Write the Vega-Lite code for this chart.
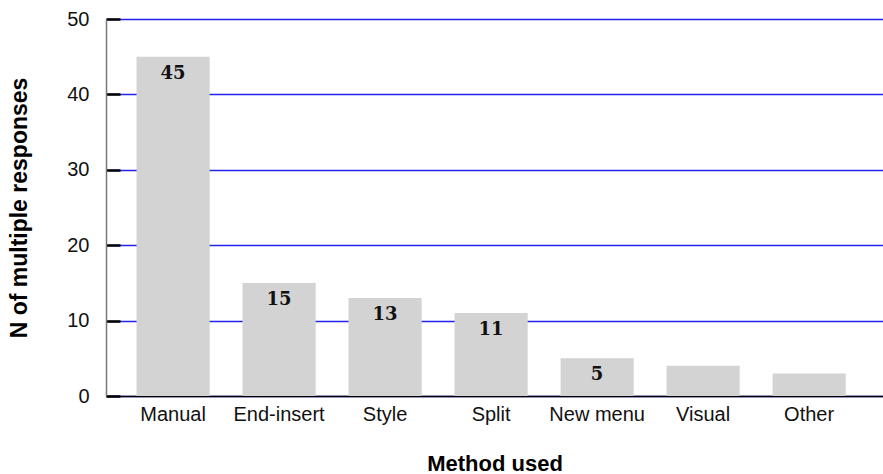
{
  "$schema": "https://vega.github.io/schema/vega-lite/v6.json",
  "autosize": "none",
  "width": 777,
  "height": 377,
  "padding": {"left": 106, "top": 19, "right": 0, "bottom": 78},
  "background": "white",
  "config": {"view": {"stroke": null}, "font": "Liberation Sans"},
  "data": {"values": [
    {"method": "Manual", "n": 45, "label": "45"},
    {"method": "End-insert", "n": 15, "label": "15"},
    {"method": "Style", "n": 13, "label": "13"},
    {"method": "Split", "n": 11, "label": "11"},
    {"method": "New menu", "n": 5, "label": "5"},
    {"method": "Visual", "n": 4, "label": ""},
    {"method": "Other", "n": 3, "label": ""}
  ]},
  "encoding": {
    "x": {"field": "method", "type": "nominal", "sort": null,
      "scale": {"paddingInner": 0.31, "paddingOuter": 0.32, "align": 0.45},
      "axis": {"title": "Method used", "labelAngle": 0, "labelFontSize": 20, "labelColor": "#111", "labelPadding": 8,
        "ticks": false, "domainColor": "#000", "domainWidth": 1.5,
        "titleFontSize": 22, "titleFontWeight": "bold", "titleColor": "#000", "titlePadding": 29}},
    "y": {"field": "n", "type": "quantitative", "scale": {"domain": [0, 50], "nice": false},
      "axis": {"title": "N of multiple responses", "values": [0, 10, 20, 30, 40, 50],
        "labelFontSize": 20, "labelColor": "#111", "labelPadding": 31,
        "tickSize": -14, "tickColor": "#000", "tickWidth": 2.5,
        "domainColor": "#777", "domainWidth": 1.5,
        "grid": true, "gridColor": "#2222ee", "gridWidth": 1.5,
        "titleFontSize": 23, "titleFontWeight": "bold", "titleColor": "#000", "titlePadding": 35}}
  },
  "layer": [
    {"mark": {"type": "bar", "color": "#d3d3d3"}},
    {"mark": {"type": "text", "baseline": "top", "dy": 8, "font": "DejaVu Serif", "fontWeight": "bold", "fontSize": 18, "color": "#111"},
      "encoding": {"text": {"field": "label"}}}
  ]
}
